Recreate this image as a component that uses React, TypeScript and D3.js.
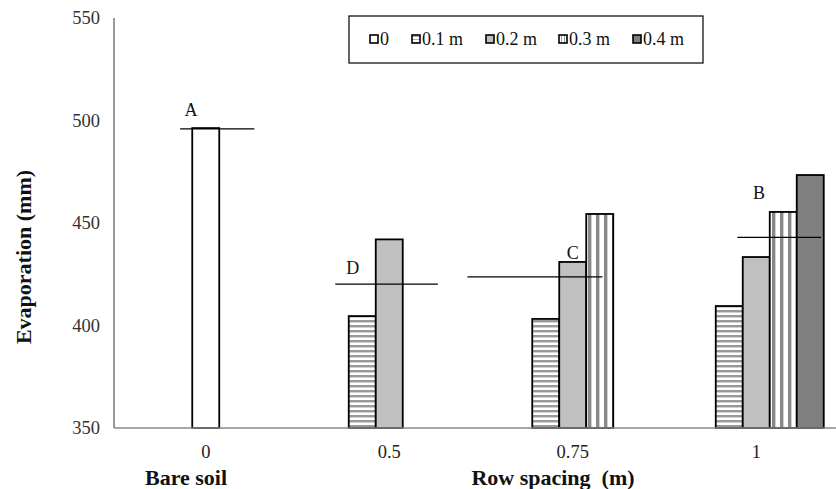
import React from "react";
import * as d3 from "d3";

const categories = ["0", "0.5", "0.75", "1"];
const seriesNames = ["0", "0.1 m", "0.2 m", "0.3 m", "0.4 m"];
const seriesValues: (number | null)[][] = [
  [496.3, null, null, null],
  [null, 404.6, 403.2, 409.5],
  [null, 442.0, 431.0, 433.4],
  [null, null, 454.4, 455.4],
  [null, null, null, 473.4],
];
const yTicks = [350, 400, 450, 500, 550];
const letters = ["A", "D", "C", "B"];
const letterMeans = [495.9, 420.2, 423.7, 443.0];
const yTitle = "Evaporation (mm)";
const xTitleLeft = "Bare soil";
const xTitleRight = "Row spacing  (m)";

// layout (in bar-width units relative to category centre)
const annotLayout = [
  { x0: -0.95, x1: 1.8, lx: -0.55, ly: 19 },
  { x0: -2.0, x1: 1.8, lx: -1.35, ly: 16 },
  { x0: -3.9, x1: 1.1, lx: 0.0, ly: 24 },
  { x0: -0.7, x1: 2.4, lx: 0.1, ly: 45 },
];

const W = 836;
const H = 489;
const left = 114;
const top = 18;
const bottom = 428;
const bw = 27;

const fills = ["#ffffff", "url(#hstripe)", "#c0c0c0", "url(#vstripe)", "#808080"];
const legendFills = ["#ffffff", "url(#hstripeS)", "#c0c0c0", "url(#vstripeS)", "#808080"];

export default function App() {
  const x = d3.scaleBand<string>().domain(categories).range([left, left + 4 * 183.5]).padding(0);
  const y = d3.scaleLinear().domain([350, 550]).range([bottom, top]);
  const inner = d3
    .scaleBand<string>()
    .domain(seriesNames)
    .range([-2.5 * bw, 2.5 * bw])
    .padding(0);
  const cx = (c: string) => (x(c) as number) + x.bandwidth() / 2;

  const bars: React.ReactNode[] = [];
  seriesValues.forEach((vals, si) => {
    vals.forEach((v, ci) => {
      if (v == null) return;
      const c = categories[ci];
      const x0 = ci === 0 ? cx(c) - bw / 2 : cx(c) + (inner(seriesNames[si]) as number);
      bars.push(
        <rect
          key={`b${si}-${ci}`}
          x={x0}
          y={y(v)}
          width={bw}
          height={bottom - y(v)}
          fill={fills[si]}
          stroke="#000"
          strokeWidth={1.8}
        />
      );
    });
  });

  const legendX = [374, 416, 490, 563, 637];

  return (
    <svg
      width={W}
      height={H}
      style={{ position: "absolute", left: 0, top: 0, background: "#fff" }}
      fontFamily="'Liberation Serif', 'Times New Roman', serif"
    >
      <defs>
        <pattern id="hstripe" width="6" height="5" patternUnits="userSpaceOnUse">
          <rect width="6" height="5" fill="#ffffff" />
          <rect y="0" width="6" height="2.2" fill="#999999" />
          <rect y="2.2" width="6" height="0.8" fill="#cccccc" />
        </pattern>
        <pattern id="vstripe" width="8" height="6" patternUnits="userSpaceOnUse" x={1}>
          <rect width="8" height="6" fill="#ffffff" />
          <rect x="3" width="3.2" height="6" fill="#888888" />
          <rect x="6.2" width="0.8" height="6" fill="#cccccc" />
        </pattern>
        <pattern id="hstripeS" width="4" height="3" patternUnits="userSpaceOnUse">
          <rect width="4" height="3" fill="#ffffff" />
          <rect width="4" height="1" fill="#aaaaaa" />
        </pattern>
        <pattern id="vstripeS" width="3" height="4" patternUnits="userSpaceOnUse">
          <rect width="3" height="4" fill="#ffffff" />
          <rect width="1" height="4" fill="#999999" />
        </pattern>
      </defs>

      {/* y axis */}
      <line x1={left} x2={left} y1={top} y2={bottom} stroke="#333" strokeWidth={1} />
      {yTicks.map((t) => (
        <text key={t} x={100} y={y(t)} dy="0.35em" textAnchor="end" fontSize={18.5} fill="#333">
          {t}
        </text>
      ))}
      <text
        transform={`translate(31, 257) rotate(-90)`}
        textAnchor="middle"
        fontSize={22}
        fontWeight="bold"
        fill="#111"
      >
        {yTitle}
      </text>

      {bars}

      {/* baseline */}
      <line x1={left} x2={W} y1={bottom} y2={bottom} stroke="#888" strokeWidth={1.5} />

      {/* category labels */}
      {categories.map((c) => (
        <text key={c} x={cx(c)} y={458} textAnchor="middle" fontSize={18.5} fill="#222">
          {c}
        </text>
      ))}
      <text x={186} y={485} textAnchor="middle" fontSize={22} fontWeight="bold" fill="#111">
        {xTitleLeft}
      </text>
      <text x={553} y={485} textAnchor="middle" fontSize={22} fontWeight="bold" fill="#111" style={{ whiteSpace: "pre" }}>
        {xTitleRight}
      </text>

      {/* letter mean lines */}
      {letters.map((l, i) => {
        const c = categories[i];
        const a = annotLayout[i];
        const yy = y(letterMeans[i]);
        return (
          <g key={l}>
            <line x1={cx(c) + a.x0 * bw} x2={cx(c) + a.x1 * bw} y1={yy} y2={yy} stroke="#000" strokeWidth={1.3} />
            <text x={cx(c) + a.lx * bw} y={yy - a.ly} dy="0.35em" textAnchor="middle" fontSize={18} fill="#111">
              {l}
            </text>
          </g>
        );
      })}

      {/* legend */}
      <rect x={349} y={16} width={354} height={47} fill="#fff" stroke="#000" strokeWidth={1.2} />
      {seriesNames.map((s, i) => (
        <g key={s}>
          <rect x={legendX[i] - 4} y={35} width={8} height={8} fill={legendFills[i]} stroke="#000" strokeWidth={1.6} />
          <text x={legendX[i] + 6} y={39} dy="0.35em" fontSize={18} fill="#111">
            {s}
          </text>
        </g>
      ))}
    </svg>
  );
}
